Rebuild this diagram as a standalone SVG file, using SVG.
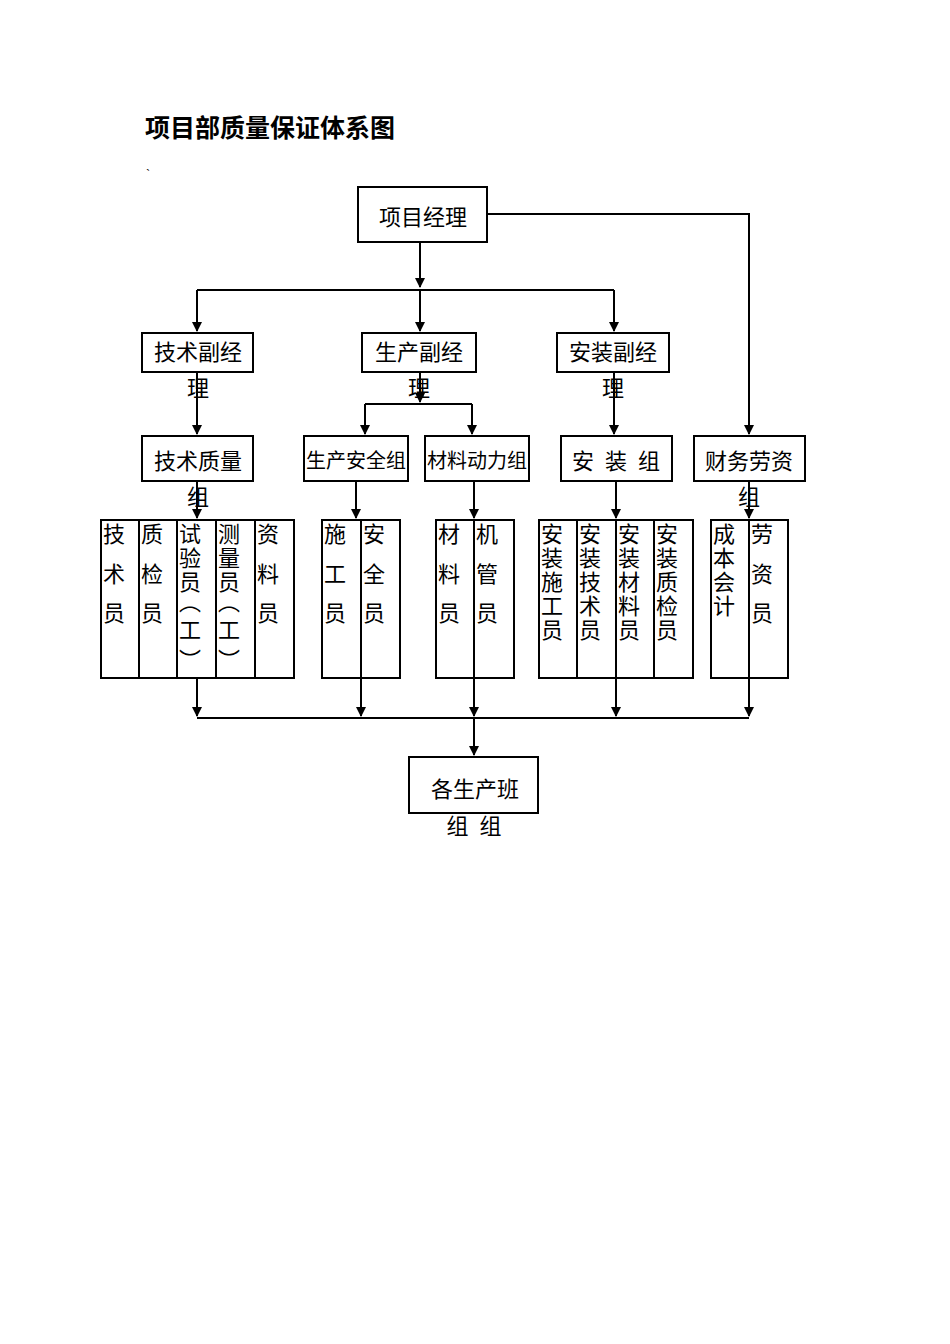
<svg xmlns="http://www.w3.org/2000/svg" width="950" height="1344" viewBox="0 0 950 1344">
<style>
text{font-family:"Liberation Serif","Noto Sans CJK SC",serif;font-size:22px;fill:#000}
.b{fill:#fff;stroke:#000;stroke-width:2}
.l{stroke:#000;stroke-width:2;fill:none}
.c{text-anchor:middle}
.s{font-size:20px}
</style>
<defs><marker id="d" markerWidth="10" markerHeight="10" refX="9" refY="5" orient="auto" markerUnits="userSpaceOnUse"><path d="M0,0 L10,5 L0,10z" fill="#000"/></marker></defs>
<text x="145" y="137" style="font-weight:bold;font-size:25px">项目部质量保证体系图</text>
<text x="146" y="178" style="font-size:12px">`</text>
<g id="connectors" class="l">
<path d="M197,290H614"/><path d="M365,404H472"/><path d="M197,718H749"/>
<g marker-end="url(#d)">
<path d="M420,242V287"/>
<path d="M197,290V331"/><path d="M420,290V331"/><path d="M614,290V331"/>
<path d="M487,214H749V434"/>
<path d="M197,372V434"/><path d="M420,372V402"/>
<path d="M365,404V434"/><path d="M472,404V434"/><path d="M614,372V434"/>
<path d="M197,481V518"/><path d="M356,481V518"/><path d="M474,481V518"/><path d="M616,481V518"/><path d="M749,481V518"/>
<path d="M197,678V716"/><path d="M361,678V716"/><path d="M474,678V716"/><path d="M616,678V716"/><path d="M749,678V716"/>
<path d="M474,718V755"/>
</g></g>
<g id="pm"><rect class="b" x="358" y="187" width="129" height="55"/><text class="c" x="423" y="225">项目经理</text></g>
<g id="tech"><rect class="b" x="142" y="333" width="111" height="39"/><text class="c" x="198" y="360">技术副经</text><text class="c" x="198" y="396">理</text></g>
<g id="prod"><rect class="b" x="362" y="333" width="114" height="39"/><text class="c" x="419" y="360">生产副经</text><text class="c" x="419" y="396">理</text></g>
<g id="inst"><rect class="b" x="557" y="333" width="112" height="39"/><text class="c" x="613" y="360">安装副经</text><text class="c" x="613" y="396">理</text></g>
<g id="g1"><rect class="b" x="142" y="436" width="111" height="45"/><text class="c" x="198" y="469">技术质量</text><text class="c" x="198" y="505">组</text></g>
<g id="g2"><rect class="b" x="304" y="436" width="104" height="45"/><text class="c s" x="356" y="468">生产安全组</text></g>
<g id="g3"><rect class="b" x="425" y="436" width="104" height="45"/><text class="c s" x="477" y="468">材料动力组</text></g>
<g id="g4"><rect class="b" x="561" y="436" width="111" height="45"/><text class="c" x="616" y="469" xml:space="preserve">安  装  组</text></g>
<g id="g5"><rect class="b" x="694" y="436" width="111" height="45"/><text class="c" x="749" y="469">财务劳资</text><text class="c" x="749" y="505">组</text></g>
<g id="s1"><rect class="b" x="101" y="520" width="193" height="158"/><path class="l" d="M139,520V678M177,520V678M216,520V678M255,520V678"/>
<text x="103" y="542">技</text><text x="103" y="582">术</text><text x="103" y="621">员</text>
<text x="141" y="542">质</text><text x="141" y="582">检</text><text x="141" y="621">员</text>
<text x="179" y="542">试</text><text x="179" y="566">验</text><text x="179" y="590">员</text><text x="179" y="610">︵</text><text x="179" y="638">工</text><text x="179" y="668">︶</text>
<text x="218" y="542">测</text><text x="218" y="566">量</text><text x="218" y="590">员</text><text x="218" y="610">︵</text><text x="218" y="638">工</text><text x="218" y="668">︶</text>
<text x="257" y="542">资</text><text x="257" y="582">料</text><text x="257" y="621">员</text></g>
<g id="s2"><rect class="b" x="322" y="520" width="78" height="158"/><path class="l" d="M361,520V678"/>
<text x="324" y="542">施</text><text x="324" y="582">工</text><text x="324" y="621">员</text>
<text x="363" y="542">安</text><text x="363" y="582">全</text><text x="363" y="621">员</text></g>
<g id="s3"><rect class="b" x="436" y="520" width="78" height="158"/><path class="l" d="M474,520V678"/>
<text x="438" y="542">材</text><text x="438" y="582">料</text><text x="438" y="621">员</text>
<text x="476" y="542">机</text><text x="476" y="582">管</text><text x="476" y="621">员</text></g>
<g id="s4"><rect class="b" x="539" y="520" width="154" height="158"/><path class="l" d="M577,520V678M616,520V678M654,520V678"/>
<text x="541" y="542">安</text><text x="541" y="566">装</text><text x="541" y="590">施</text><text x="541" y="614">工</text><text x="541" y="638">员</text>
<text x="579" y="542">安</text><text x="579" y="566">装</text><text x="579" y="590">技</text><text x="579" y="614">术</text><text x="579" y="638">员</text>
<text x="618" y="542">安</text><text x="618" y="566">装</text><text x="618" y="590">材</text><text x="618" y="614">料</text><text x="618" y="638">员</text>
<text x="656" y="542">安</text><text x="656" y="566">装</text><text x="656" y="590">质</text><text x="656" y="614">检</text><text x="656" y="638">员</text></g>
<g id="s5"><rect class="b" x="711" y="520" width="77" height="158"/><path class="l" d="M749,520V678"/>
<text x="713" y="542">成</text><text x="713" y="566">本</text><text x="713" y="590">会</text><text x="713" y="614">计</text>
<text x="751" y="542">劳</text><text x="751" y="582">资</text><text x="751" y="621">员</text></g>
<g id="teams"><rect class="b" x="409" y="757" width="129" height="56"/><text class="c" x="475" y="797">各生产班</text><text class="c" x="474" y="834" xml:space="preserve">组  组</text></g>
</svg>
